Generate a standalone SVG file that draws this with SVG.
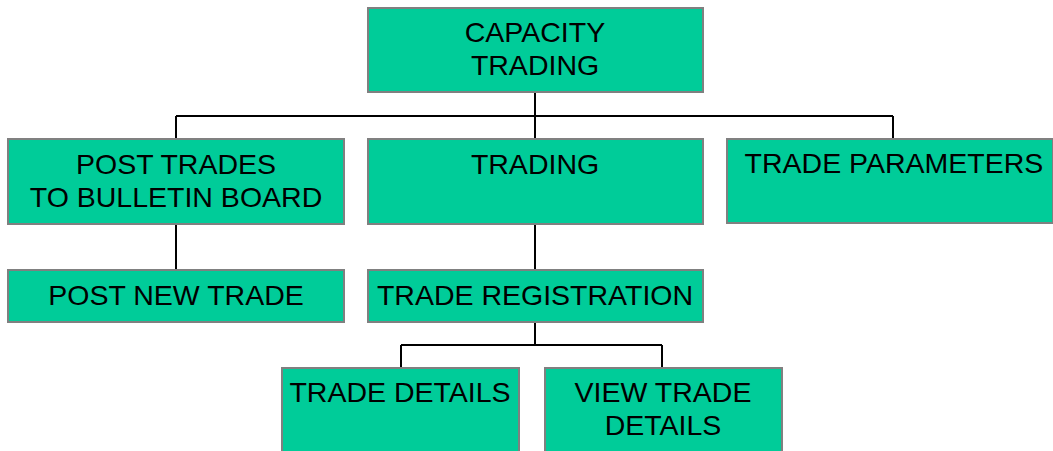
<svg xmlns="http://www.w3.org/2000/svg" width="1053" height="451" viewBox="0 0 1053 451">
<style>
.box{fill:#00CC99;stroke:#808080;stroke-width:2}
.t{font-family:"Liberation Sans",Arial,sans-serif;font-size:28.5px;fill:#000;text-anchor:middle}
.c{stroke:#000;stroke-width:2;fill:none}
</style>
<rect width="1053" height="451" fill="#fff"/>
<g id="connectors">
<path class="c" d="M535 92V139M176 116H893M176 116V139M893 116V139"/>
<path class="c" d="M176 224V270M535 224V270"/>
<path class="c" d="M535 322V345M401 345H662M401 345V368M662 345V368"/>
</g>
<g id="capacity-trading">
<rect class="box" x="368" y="8" width="335" height="84"/>
<text class="t" x="535" y="42">CAPACITY</text>
<text class="t" x="535" y="75">TRADING</text>
</g>
<g id="post-trades">
<rect class="box" x="8" y="139" width="336" height="85"/>
<text class="t" x="176" y="174">POST TRADES</text>
<text class="t" x="176" y="207">TO BULLETIN BOARD</text>
</g>
<g id="trading">
<rect class="box" x="368" y="139" width="335" height="85"/>
<text class="t" x="535" y="174">TRADING</text>
</g>
<g id="trade-parameters">
<rect class="box" x="727" y="139" width="326" height="84"/>
<text class="t" x="894" y="173">TRADE PARAMETERS</text>
</g>
<g id="post-new-trade">
<rect class="box" x="8" y="270" width="336" height="52"/>
<text class="t" x="176" y="305">POST NEW TRADE</text>
</g>
<g id="trade-registration">
<rect class="box" x="368" y="270" width="335" height="52"/>
<text class="t" x="535" y="305">TRADE REGISTRATION</text>
</g>
<g id="trade-details">
<rect class="box" x="282" y="368" width="237" height="90"/>
<text class="t" x="400" y="402">TRADE DETAILS</text>
</g>
<g id="view-trade-details">
<rect class="box" x="545" y="368" width="237" height="90"/>
<text class="t" x="663" y="402">VIEW TRADE</text>
<text class="t" x="663" y="435">DETAILS</text>
</g>
</svg>
